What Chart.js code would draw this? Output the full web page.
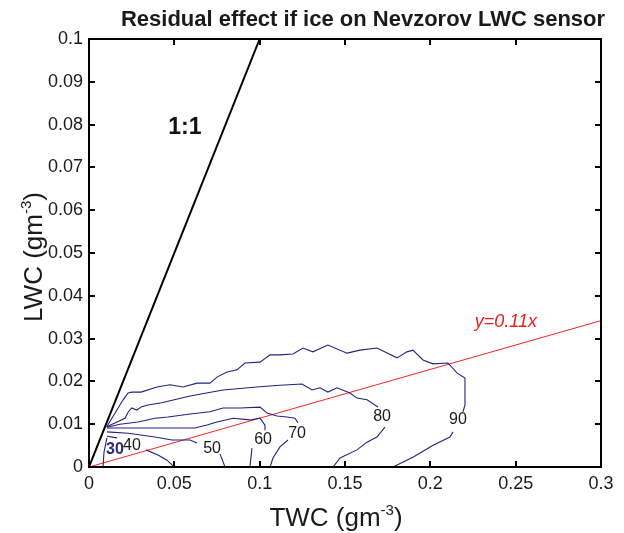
<!DOCTYPE html>
<html>
<head>
<meta charset="utf-8">
<script src="https://cdn.jsdelivr.net/npm/chart.js@4.4.1/dist/chart.umd.min.js"></script>
<style>
  html, body { margin: 0; padding: 0; background: #fff; }
  #wrap { width: 624px; height: 533px; }
</style>
</head>
<body>
<div id="wrap"><canvas id="iceChart" width="624" height="533"></canvas></div>
<script>
// axis ticks
const xTickValues = [0, 0.05, 0.1, 0.15, 0.2, 0.25, 0.3];
const xTickLabels = ['0', '0.05', '0.1', '0.15', '0.2', '0.25', '0.3'];
const yTickValues = [0, 0.01, 0.02, 0.03, 0.04, 0.05, 0.06, 0.07, 0.08, 0.09, 0.1];
const yTickLabels = ['0', '0.01', '0.02', '0.03', '0.04', '0.05', '0.06', '0.07', '0.08', '0.09', '0.1'];

// contour lines (TWC, LWC); null = break where the level label sits
const c90x = [0.0104, 0.020, 0.0229, 0.0252, 0.0305, 0.0398, 0.0475, 0.0551, 0.0633, 0.0709, 0.075, 0.0809, 0.0867, 0.0914, 0.1002, 0.1061, 0.1119, 0.1195, 0.1254, 0.1312, 0.140, 0.1512, 0.1588, 0.1687, 0.1805, 0.1863, 0.1898, 0.1957, 0.2016, 0.2103, 0.2156, 0.2203, 0.2203, 0.2191, null, 0.2133, 0.2115, 0.2016, 0.1898, 0.1781];
const c90y = [0.0094, 0.0157, 0.0173, 0.0175, 0.0175, 0.0187, 0.0192, 0.0187, 0.0196, 0.0196, 0.021, 0.0222, 0.0227, 0.0243, 0.0245, 0.0262, 0.0262, 0.0264, 0.0278, 0.0269, 0.0285, 0.0266, 0.0273, 0.0278, 0.0255, 0.0269, 0.0273, 0.025, 0.0241, 0.0243, 0.022, 0.0208, 0.0145, 0.0129, null, 0.0082, 0.007, 0.0051, 0.0023, 0];

const c80x = [0.0104, 0.0211, 0.0229, 0.025, 0.028, 0.0309, 0.0346, 0.0426, 0.0592, 0.0785, 0.0984, 0.1119, 0.1248, 0.1307, 0.1353, 0.140, 0.1453, 0.1529, 0.157, 0.1629, 0.1693, null, 0.1734, 0.1687, 0.1629, 0.157, 0.1471, 0.143];
const c80y = [0.0094, 0.0114, 0.0128, 0.0138, 0.0133, 0.0141, 0.0145, 0.015, 0.0166, 0.018, 0.0187, 0.0191, 0.0194, 0.018, 0.0185, 0.0175, 0.0185, 0.0173, 0.0161, 0.0157, 0.014, null, 0.0093, 0.007, 0.0058, 0.004, 0.0021, 0];

const c70x = [0.0105, 0.0182, 0.0287, 0.0387, 0.0463, 0.0592, 0.0709, 0.0785, 0.0885, 0.1002, 0.1043, 0.1102, 0.116, 0.1207, 0.1225, null, 0.1166, 0.1119, 0.1078, 0.1061];
const c70y = [0.0093, 0.010, 0.0105, 0.0114, 0.0117, 0.0124, 0.0129, 0.0138, 0.0138, 0.014, 0.0126, 0.0119, 0.0117, 0.0114, 0.0103, null, 0.0063, 0.0047, 0.0021, 0];

const c60x = [0.0105, 0.0299, 0.0621, 0.0691, 0.075, 0.0844, 0.0943, 0.1002, 0.1031, 0.1031, null, 0.0955, 0.0943];
const c60y = [0.0091, 0.0091, 0.0091, 0.0098, 0.0105, 0.0114, 0.011, 0.0114, 0.0098, 0.0086, null, 0.0044, 0];

const c50x = [0.0105, 0.0229, 0.0387, 0.0486, 0.0592, 0.0633, null, 0.0768, 0.0797];
const c50y = [0.0082, 0.0079, 0.007, 0.0063, 0.0063, 0.0056, null, 0.003, 0];

const c40x = [0.0105, 0.0164, null, 0.0334, 0.0404, 0.0457, 0.0486, 0.0504];
const c40y = [0.0072, 0.0068, null, 0.004, 0.0028, 0.0016, 0.0005, 0];

const c30x = [0.0105, 0.0088, 0.0082];
const c30y = [0.0068, 0.0035, 0];

// contour level labels
const levelText = ['30', '40', '50', '60', '70', '80', '90'];
const levelX = [0.0152, 0.0252, 0.0721, 0.102, 0.1219, 0.1717, 0.2162];
const levelY = [0.0040, 0.0051, 0.0042, 0.0063, 0.0079, 0.0117, 0.0110];

// reference lines
const oneToOneX = [0, 0.1];
const oneToOneY = [0, 0.1];
const fitX = [0, 0.3];
const fitY = [0, 0.0342];

const FONT = '"Liberation Sans", Arial, Helvetica, sans-serif';
const contourColor = '#23237e';

function pts(xs, ys) {
    return xs.map((x, i) => ({ x: x, y: ys[i] }));
}

function contour(xs, ys) {
    return {
        data: pts(xs, ys),
        borderColor: contourColor,
        borderWidth: 1.1,
        pointRadius: 0,
        fill: false,
        spanGaps: false,
        tension: 0
    };
}

// draws box, inward ticks and all texts
const decorPlugin = {
    id: 'decor',
    afterDraw(chart) {
        const ctx = chart.ctx;
        const a = chart.chartArea;
        const xs = chart.scales.x;
        const ys = chart.scales.y;
        ctx.save();

        ctx.strokeStyle = '#000';
        ctx.lineWidth = 2;
        ctx.strokeRect(a.left, a.top, a.right - a.left, a.bottom - a.top);

        ctx.beginPath();
        xTickValues.forEach(v => {
            const px = Math.round(xs.getPixelForValue(v));
            ctx.moveTo(px, a.bottom); ctx.lineTo(px, a.bottom - 6);
            ctx.moveTo(px, a.top); ctx.lineTo(px, a.top + 6);
        });
        yTickValues.forEach(v => {
            const py = Math.round(ys.getPixelForValue(v));
            ctx.moveTo(a.left, py); ctx.lineTo(a.left + 6, py);
            ctx.moveTo(a.right, py); ctx.lineTo(a.right - 6, py);
        });
        ctx.stroke();

        // title
        ctx.fillStyle = '#1a1a1a';
        ctx.textAlign = 'center';
        ctx.textBaseline = 'alphabetic';
        ctx.font = 'bold 22px ' + FONT;
        ctx.fillText('Residual effect if ice on Nevzorov LWC sensor', 363, 26);

        // axis titles with superscript
        function supLabel(main, sup, cx, cy, rot) {
            ctx.save();
            ctx.translate(cx, cy);
            ctx.rotate(rot);
            ctx.font = '26px ' + FONT;
            const w1 = ctx.measureText(main).width;
            const w3 = ctx.measureText(')').width;
            ctx.font = '15px ' + FONT;
            const w2 = ctx.measureText(sup).width;
            const x0 = -(w1 + w2 + w3) / 2;
            ctx.textAlign = 'left';
            ctx.font = '26px ' + FONT;
            ctx.fillText(main, x0, 0);
            ctx.font = '15px ' + FONT;
            ctx.fillText(sup, x0 + w1, -11);
            ctx.font = '26px ' + FONT;
            ctx.fillText(')', x0 + w1 + w2, 0);
            ctx.restore();
        }
        supLabel('TWC (gm', '-3', 336, 526, 0);
        supLabel('LWC (gm', '-3', 42, 257, -Math.PI / 2);

        // contour level labels
        ctx.textAlign = 'center';
        ctx.textBaseline = 'middle';
        levelText.forEach((t, i) => {
            const px = xs.getPixelForValue(levelX[i]);
            const py = ys.getPixelForValue(levelY[i]);
            if (t === '30') {
                ctx.font = 'bold 16px ' + FONT;
                ctx.fillStyle = '#2b2b7a';
            } else {
                ctx.font = '16px ' + FONT;
                ctx.fillStyle = '#1a1a1a';
            }
            ctx.fillText(t, px, py);
        });

        ctx.fillStyle = '#111';
        ctx.font = 'bold 23px ' + FONT;
        ctx.fillText('1:1', xs.getPixelForValue(0.0562), ys.getPixelForValue(0.0792));

        ctx.fillStyle = '#ee1c1c';
        ctx.font = 'italic 18px ' + FONT;
        ctx.fillText('y=0.11x', xs.getPixelForValue(0.2443), ys.getPixelForValue(0.0339));

        ctx.restore();
    }
};

const datasets = [
    contour(c90x, c90y),
    contour(c80x, c80y),
    contour(c70x, c70y),
    contour(c60x, c60y),
    contour(c50x, c50y),
    contour(c40x, c40y),
    contour(c30x, c30y),
    {
        data: pts(fitX, fitY),
        borderColor: '#ff2222',
        borderWidth: 1,
        pointRadius: 0,
        fill: false
    },
    {
        data: pts(oneToOneX, oneToOneY),
        borderColor: '#000',
        borderWidth: 2,
        pointRadius: 0,
        fill: false
    }
];

const ctx = document.getElementById('iceChart').getContext('2d');
const chart = new Chart(ctx, {
    type: 'line',
    data: { datasets: datasets },
    options: {
        responsive: false,
        animation: false,
        layout: { padding: { left: 0, right: 23, top: 39, bottom: 0 } },
        plugins: {
            legend: { display: false },
            tooltip: { enabled: false },
            title: { display: false }
        },
        scales: {
            x: {
                type: 'linear',
                min: 0,
                max: 0.3,
                grid: { display: false, drawTicks: false },
                border: { display: false },
                afterBuildTicks: function(scale) {
                    scale.ticks = xTickValues.map(v => ({ value: v }));
                },
                afterFit: function(scale) { scale.height = 66; },
                ticks: {
                    padding: 6,
                    color: '#1a1a1a',
                    maxRotation: 0,
                    autoSkip: false,
                    font: { family: FONT, size: 18 },
                    callback: function(val, i) { return xTickLabels[i]; }
                }
            },
            y: {
                type: 'linear',
                min: 0,
                max: 0.1,
                grid: { display: false, drawTicks: false },
                border: { display: false },
                afterBuildTicks: function(scale) {
                    scale.ticks = yTickValues.map(v => ({ value: v }));
                },
                afterFit: function(scale) { scale.width = 89; },
                ticks: {
                    padding: 6,
                    color: '#1a1a1a',
                    autoSkip: false,
                    font: { family: FONT, size: 18 },
                    callback: function(val, i) { return yTickLabels[i]; }
                }
            }
        }
    },
    plugins: [decorPlugin]
});
</script>
</body>
</html>
